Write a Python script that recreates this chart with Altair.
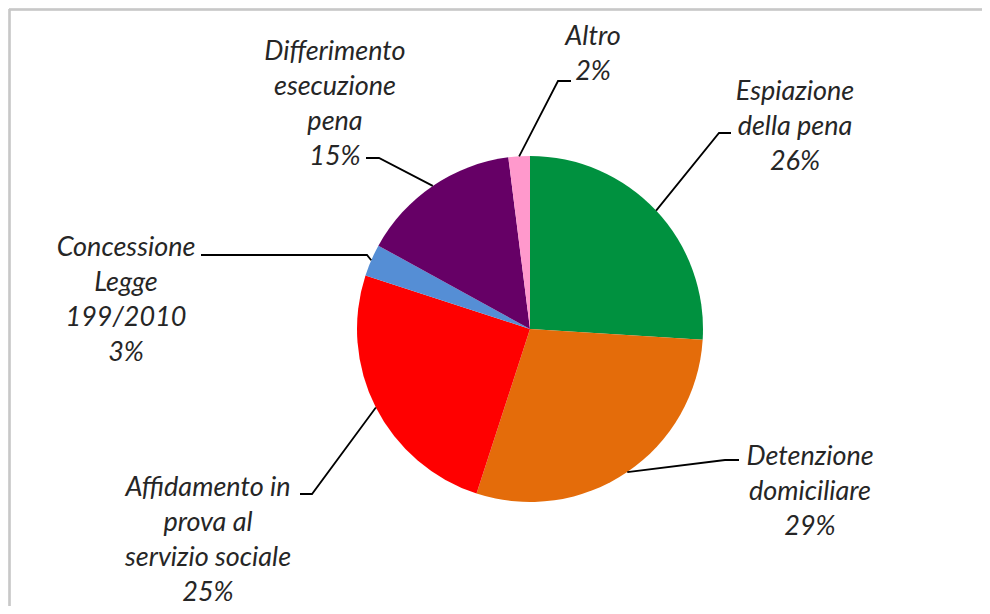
import altair as alt
import pandas as pd
import numpy as np

# ---- data ----
categories = [
    "Espiazione della pena",
    "Detenzione domiciliare",
    "Affidamento in prova al servizio sociale",
    "Concessione Legge 199/2010",
    "Differimento esecuzione pena",
    "Altro",
]
values = [26, 29, 25, 3, 15, 2]
label_lines = [
    ["Espiazione", "della pena"],
    ["Detenzione", "domiciliare"],
    ["Affidamento in", "prova al", "servizio sociale"],
    ["Concessione", "Legge", "199/2010"],
    ["Differimento", "esecuzione", "pena"],
    ["Altro"],
]
colors = ["#00913F", "#E46C0A", "#FF0000", "#558ED5", "#660066", "#FF99CC"]

# ---- layout (page coordinates) ----
CX, CY, R = 529, 328, 173
label_first_line = {
    "Espiazione della pena": (794, 91),
    "Detenzione domiciliare": (809, 456),
    "Affidamento in prova al servizio sociale": (207, 487),
    "Concessione Legge 199/2010": (125, 247),
    "Differimento esecuzione pena": (334, 51),
    "Altro": (592, 36),
}
leader_elbow = {
    "Espiazione della pena": [(718, 132), (730, 132)],
    "Detenzione domiciliare": [(724, 459), (738, 459)],
    "Affidamento in prova al servizio sociale": [(311, 493), (299, 493)],
    "Concessione Legge 199/2010": [(366, 254), (200, 254)],
    "Differimento esecuzione pena": [(378, 157), (365, 157)],
    "Altro": [(557, 80), (570, 80)],
}

df = pd.DataFrame({"cat": categories, "value": values, "order": range(len(values))})
total = sum(values)
cum = np.cumsum([0] + values)
mid = [(cum[i] + cum[i + 1]) / 2 / total * 2 * np.pi for i in range(len(values))]

lab_rows = []
line_rows = []
for i, c in enumerate(categories):
    txt = "\n".join(label_lines[i] + [f"{values[i]}%"])
    lx, ly = label_first_line[c]
    lab_rows.append({"cat": c, "txt": txt, "x": lx, "y": ly})
    sx = CX + R * np.sin(mid[i])
    sy = CY - R * np.cos(mid[i])
    pts = [(sx, sy)] + leader_elbow[c]
    for k, (px, py) in enumerate(pts):
        line_rows.append({"cat": c, "seq": k, "x": px, "y": py})
labels = pd.DataFrame(lab_rows)
lines = pd.DataFrame(line_rows)

W, H = 974, 598
xs = alt.Scale(domain=[8, 8 + W], range=[0, W], nice=False, zero=False)
ys = alt.Scale(domain=[8, 8 + H], range=[0, H], nice=False, zero=False)

pie = alt.Chart(df).mark_arc(radius=R, stroke=None).encode(
    theta=alt.Theta("value:Q", stack=True),
    order=alt.Order("order:Q"),
    color=alt.Color("cat:N", scale=alt.Scale(domain=categories, range=colors), legend=None),
    x=alt.value(CX - 8),
    y=alt.value(CY - 8),
)

leaders = alt.Chart(lines).mark_line(color="#000000", strokeWidth=1.8).encode(
    x=alt.X("x:Q", scale=xs, axis=None),
    y=alt.Y("y:Q", scale=ys, axis=None),
    detail="cat:N",
    order="seq:Q",
)

text = alt.Chart(labels).mark_text(
    font="Lato", fontStyle="italic", fontSize=27, color="#262626",
    align="center", baseline="middle", lineBreak="\n", lineHeight=35,
).encode(
    x=alt.X("x:Q", scale=xs, axis=None),
    y=alt.Y("y:Q", scale=ys, axis=None),
    text="txt:N",
)

frame_top = alt.Chart(df).mark_rule(color="#c8c8c8", strokeWidth=1.5).encode(
    x=alt.value(0), x2=alt.value(W), y=alt.value(0.5)
)
frame_left = alt.Chart(df).mark_rule(color="#c8c8c8", strokeWidth=1.5).encode(
    x=alt.value(0.5), y=alt.value(0), y2=alt.value(H)
)

chart = alt.layer(frame_top, frame_left, pie, leaders, text).properties(
    width=W, height=H, padding=0,
    autosize=alt.AutoSizeParams(type="fit", contains="padding"),
    background="white",
).configure_view(stroke=None)

chart.save("out.html", embed_options={"renderer": "svg", "actions": False})
